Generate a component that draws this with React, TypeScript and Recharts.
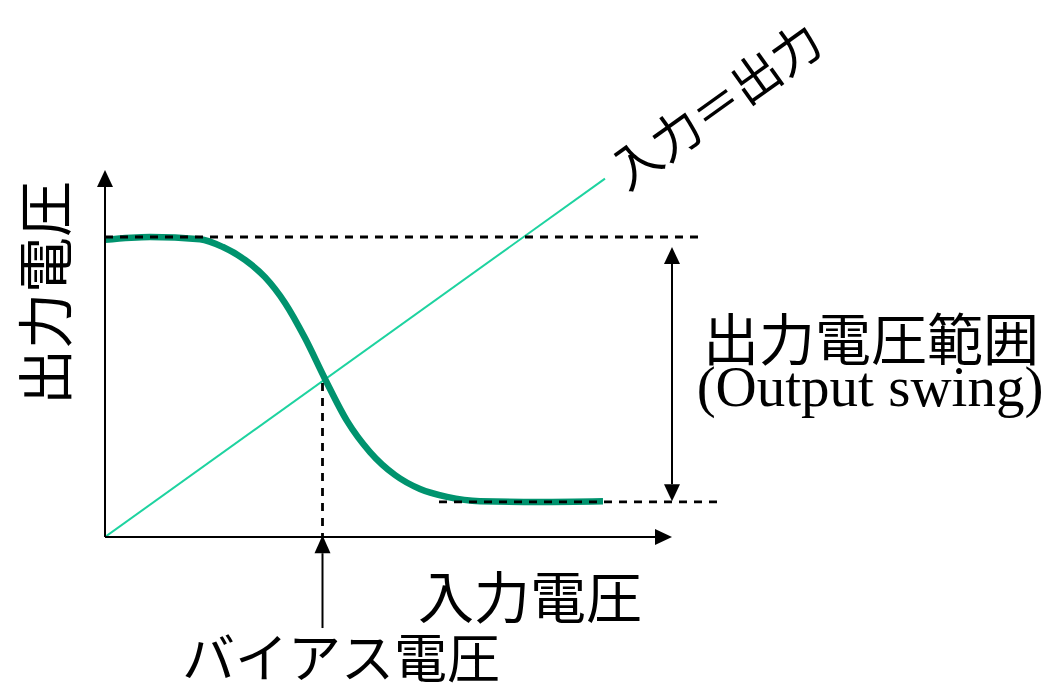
import { LineChart, Line, XAxis, YAxis, ReferenceLine, ReferenceDot } from 'recharts';

const W = 1056;
const H = 688;
const INK = '#000000';
const CURVE = '#00936e';
const IDEAL = '#1ed3a0';
const JP = '"Noto Sans CJK JP", "Noto Sans", sans-serif';
const SERIF = '"Liberation Serif", "Times New Roman", serif';

// transfer curve, arbitrary units (input -> output)
const VIN = [0, 0.9, 1.9, 2.36, 2.8, 3.2, 3.6, 4.0, 4.4, 4.84, 5.3, 5.8, 6.3, 6.84, 7.5, 8.7, 9.96];
const VOUT = [8.29, 8.37, 8.31, 8.09, 7.73, 7.25, 6.53, 5.55, 4.41, 3.24, 2.37, 1.73, 1.34, 1.12, 1.0, 0.98, 1.0];

// input = output reference line
const IDEAL_IN = [0, 10];
const IDEAL_OUT = [0, 10];

const V_HIGH = 8.37;
const V_LOW = 0.98;
const V_BIAS = 4.35;
const X_MAX = 12.4;
const Y_MAX = 10.1;
const X_ARROW = 11.34;

const LABEL_IDEAL = '入力＝出力';
const LABEL_Y = '出力電圧';
const LABEL_X = '入力電圧';
const LABEL_BIAS = 'バイアス電圧';
const LABEL_SWING = '出力電圧範囲';
const LABEL_SWING_EN = '(Output swing)';

const curve = VIN.map((x, i) => ({ x, y: VOUT[i] }));
const ideal = IDEAL_IN.map((x, i) => ({ x, y: IDEAL_OUT[i] }));

function Arrow({ x1, y1, x2, y2, both = false, head = 17, half = 8 }: any) {
  const len = Math.hypot(x2 - x1, y2 - y1) || 1;
  const ux = (x2 - x1) / len;
  const uy = (y2 - y1) / len;
  const tri = (tx: number, ty: number, dx: number, dy: number) => {
    const bx = tx - dx * head;
    const by = ty - dy * head;
    return `${tx},${ty} ${bx - dy * half},${by + dx * half} ${bx + dy * half},${by - dx * half}`;
  };
  const sx = both ? x1 + ux * head : x1;
  const sy = both ? y1 + uy * head : y1;
  return (
    <g>
      <line x1={sx} y1={sy} x2={x2 - ux * head} y2={y2 - uy * head} stroke={INK} strokeWidth={2} />
      <polygon points={tri(x2, y2, ux, uy)} fill={INK} />
      {both && <polygon points={tri(x1, y1, -ux, -uy)} fill={INK} />}
    </g>
  );
}

// label drawn at a data point; baseline 'central' unless told otherwise
function textAt(value: string, opts: { size: number; font?: string; rotate?: number; baseline?: string }) {
  return (p: any) => (
    <text
      x={p.cx}
      y={p.cy}
      textAnchor="middle"
      dominantBaseline={opts.baseline ?? 'central'}
      fontSize={opts.size}
      fontFamily={opts.font ?? JP}
      fill={INK}
      transform={opts.rotate ? `rotate(${opts.rotate} ${p.cx} ${p.cy})` : undefined}
    >
      {value}
    </text>
  );
}

const dashed = { stroke: INK, strokeWidth: 2.8, strokeDasharray: '8 7', ifOverflow: 'visible' as const };

export default function App() {
  return (
    <div style={{ position: 'absolute', left: 0, top: 0, background: '#fff' }}>
      <LineChart width={W} height={H} margin={{ top: 175, right: W - 725, bottom: H - 537, left: 105 }}>
        <XAxis type="number" dataKey="x" domain={[0, X_MAX]} hide allowDataOverflow />
        <YAxis type="number" dataKey="y" domain={[0, Y_MAX]} hide allowDataOverflow />

        <Line data={ideal} dataKey="y" stroke={IDEAL} strokeWidth={2} dot={false} isAnimationActive={false} />
        <Line
          data={curve}
          dataKey="y"
          type="monotone"
          stroke={CURVE}
          strokeWidth={6.5}
          dot={false}
          isAnimationActive={false}
        />

        <ReferenceLine segment={[{ x: 0, y: V_HIGH }, { x: 11.95, y: V_HIGH }]} {...dashed} />
        <ReferenceLine segment={[{ x: 6.68, y: V_LOW }, { x: 12.36, y: V_LOW }]} {...dashed} />
        <ReferenceLine segment={[{ x: V_BIAS, y: 4.3 }, { x: V_BIAS, y: 0 }]} {...dashed} />

        <ReferenceLine
          segment={[{ x: 0, y: 0 }, { x: X_ARROW, y: 0 }]}
          ifOverflow="visible"
          shape={(p: any) => <Arrow {...p} head={17} half={8} />}
        />
        <ReferenceLine
          segment={[{ x: 0, y: 0 }, { x: 0, y: 10.24 }]}
          ifOverflow="visible"
          shape={(p: any) => <Arrow {...p} head={17} half={8} />}
        />
        <ReferenceLine
          segment={[{ x: V_BIAS, y: -2.54 }, { x: V_BIAS, y: 0.05 }]}
          ifOverflow="visible"
          shape={(p: any) => <Arrow {...p} head={18} half={8} />}
        />
        <ReferenceLine
          segment={[{ x: X_ARROW, y: 8.09 }, { x: X_ARROW, y: 1.0 }]}
          ifOverflow="visible"
          shape={(p: any) => <Arrow {...p} both head={17} half={8} />}
        />

        <ReferenceDot x={12.18} y={12.11} r={0} ifOverflow="visible" shape={textAt(LABEL_IDEAL, { size: 49, rotate: -35.5 })} />
        <ReferenceDot x={-1.26} y={6.81} r={0} ifOverflow="visible" shape={textAt(LABEL_Y, { size: 56, rotate: -90 })} />
        <ReferenceDot x={8.5} y={-1.59} r={0} ifOverflow="visible" shape={textAt(LABEL_X, { size: 56 })} />
        <ReferenceDot x={4.72} y={-3.3} r={0} ifOverflow="visible" shape={textAt(LABEL_BIAS, { size: 53 })} />
        <ReferenceDot x={15.32} y={5.63} r={0} ifOverflow="visible" shape={textAt(LABEL_SWING, { size: 56 })} />
        <ReferenceDot
          x={15.3}
          y={3.65}
          r={0}
          ifOverflow="visible"
          shape={textAt(LABEL_SWING_EN, { size: 57, font: SERIF, baseline: 'alphabetic' })}
        />
      </LineChart>
    </div>
  );
}
